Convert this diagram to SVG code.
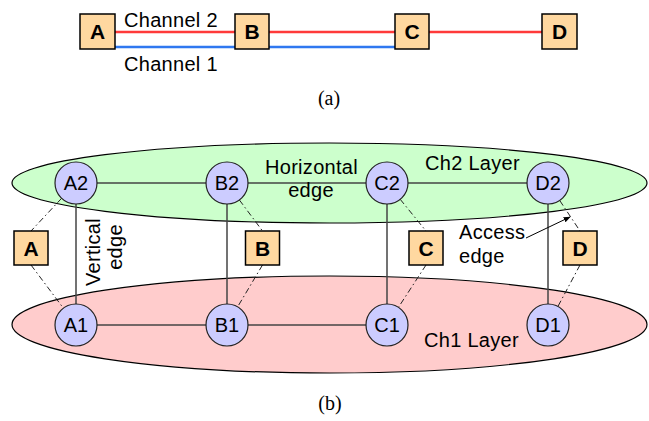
<svg xmlns="http://www.w3.org/2000/svg" width="649" height="421" viewBox="0 0 649 421">
  <style>
    .lbl { font-family: "Liberation Sans", Arial, sans-serif; font-size: 20px; letter-spacing: 0.3px; fill: #000; }
    .nd  { font-family: "Liberation Sans", Arial, sans-serif; font-size: 20px; fill: #000; text-anchor: middle; }
    .bx  { fill: #FFD8A0; stroke: #000; stroke-width: 1.5; }
    .bxt { font-family: "Liberation Sans", Arial, sans-serif; font-size: 21px; font-weight: bold; fill: #000; text-anchor: middle; }
    .cap { font-family: "Liberation Serif", "Times New Roman", serif; font-size: 20px; fill: #000; text-anchor: middle; }
    .node { fill: #CCCCFF; stroke: #222; stroke-width: 1.2; }
    .edge { stroke: #444; stroke-width: 1.5; fill: none; }
    .acc  { stroke: #222; stroke-width: 1; fill: none; stroke-dasharray: 6 3 1.5 3; }
  </style>
  <defs>
    <marker id="arr" viewBox="0 0 10 10" refX="9" refY="5" markerWidth="7" markerHeight="7" orient="auto" markerUnits="userSpaceOnUse">
      <path d="M0,1 L10,5 L0,9 z" fill="#000"/>
    </marker>
  </defs>

  <!-- (a) two-channel chain -->
  <g id="chain-links">
    <line x1="115" y1="32" x2="542" y2="32" stroke="#FF3A3A" stroke-width="2.5"/>
    <line x1="115" y1="47" x2="395" y2="47" stroke="#2F78F0" stroke-width="2.5"/>
  </g>
  <text class="lbl" x="124" y="27">Channel 2</text>
  <text class="lbl" x="124" y="71">Channel 1</text>
  <g id="a-A"><rect class="bx" x="80" y="14" width="35" height="35"/><text class="bxt" x="97.5" y="39">A</text></g>
  <g id="a-B"><rect class="bx" x="235" y="14" width="34" height="35"/><text class="bxt" x="252" y="39">B</text></g>
  <g id="a-C"><rect class="bx" x="395" y="14" width="34" height="35"/><text class="bxt" x="412" y="39">C</text></g>
  <g id="a-D"><rect class="bx" x="542" y="14" width="35" height="35"/><text class="bxt" x="559.5" y="39">D</text></g>
  <text class="cap" x="329" y="105">(a)</text>

  <!-- (b) layered graph -->
  <g id="layer-ch2"><ellipse cx="329.5" cy="183" rx="317.5" ry="40" fill="#CCFFCC" stroke="#000" stroke-width="1.2"/></g>
  <g id="layer-ch1"><ellipse cx="329.5" cy="324.5" rx="317.5" ry="48.5" fill="#FFCCCC" stroke="#000" stroke-width="1.2"/></g>

  <g id="connectors">
    <!-- horizontal edges -->
    <line class="edge" x1="76" y1="183" x2="548" y2="183"/>
    <line class="edge" x1="76" y1="325" x2="387" y2="325"/>
    <!-- vertical edges -->
    <line class="edge" x1="76" y1="204" x2="76" y2="304"/>
    <line class="edge" x1="227" y1="204" x2="227" y2="304"/>
    <line class="edge" x1="387" y1="204" x2="387" y2="304"/>
    <line class="edge" x1="548" y1="204" x2="548" y2="304"/>
    <!-- access edges -->
    <line class="acc" x1="61.6" y1="198.3" x2="31" y2="231"/>
    <line class="acc" x1="31" y1="265" x2="63.4" y2="308.2"/>
    <line class="acc" x1="239.4" y1="200" x2="262.5" y2="231"/>
    <line class="acc" x1="262.5" y1="265" x2="237.6" y2="306.9"/>
    <line class="acc" x1="400.2" y1="199.3" x2="426" y2="231"/>
    <line class="acc" x1="426" y1="265" x2="398.4" y2="307.4"/>
    <line class="acc" x1="559.8" y1="200.6" x2="580" y2="231"/>
    <line class="acc" x1="580" y1="265" x2="558" y2="306.3"/>
    <!-- pointer to access edge -->
    <line x1="526" y1="238" x2="570" y2="217" stroke="#000" stroke-width="1" marker-end="url(#arr)"/>
  </g>

  <g id="A2"><circle class="node" cx="76" cy="183" r="21"/><text class="nd" x="76" y="190">A2</text></g>
  <g id="B2"><circle class="node" cx="227" cy="183" r="21"/><text class="nd" x="227" y="190">B2</text></g>
  <g id="C2"><circle class="node" cx="387" cy="183" r="21"/><text class="nd" x="387" y="190">C2</text></g>
  <g id="D2"><circle class="node" cx="548" cy="183" r="21"/><text class="nd" x="548" y="190">D2</text></g>
  <g id="A1"><circle class="node" cx="76" cy="325" r="21"/><text class="nd" x="76" y="332">A1</text></g>
  <g id="B1"><circle class="node" cx="227" cy="325" r="21"/><text class="nd" x="227" y="332">B1</text></g>
  <g id="C1"><circle class="node" cx="387" cy="325" r="21"/><text class="nd" x="387" y="332">C1</text></g>
  <g id="D1"><circle class="node" cx="548" cy="325" r="21"/><text class="nd" x="548" y="332">D1</text></g>

  <g id="b-A"><rect class="bx" x="14" y="231" width="34" height="34"/><text class="bxt" x="31" y="256">A</text></g>
  <g id="b-B"><rect class="bx" x="245.5" y="231" width="34" height="34"/><text class="bxt" x="262.5" y="256">B</text></g>
  <g id="b-C"><rect class="bx" x="409" y="231" width="34" height="34"/><text class="bxt" x="426" y="256">C</text></g>
  <g id="b-D"><rect class="bx" x="563" y="231" width="34" height="34"/><text class="bxt" x="580" y="256">D</text></g>

  <text class="lbl" x="311.5" y="174" text-anchor="middle">Horizontal</text>
  <text class="lbl" x="311" y="197" text-anchor="middle">edge</text>
  <text class="lbl" x="425" y="170">Ch2 Layer</text>
  <text class="lbl" x="424" y="347">Ch1 Layer</text>
  <text class="lbl" x="459" y="239">Access</text>
  <text class="lbl" x="459" y="263">edge</text>
  <text class="lbl" transform="translate(100,252) rotate(-90)" text-anchor="middle">Vertical</text>
  <text class="lbl" transform="translate(122,247) rotate(-90)" text-anchor="middle">edge</text>
  <text class="cap" x="330" y="410">(b)</text>
</svg>
